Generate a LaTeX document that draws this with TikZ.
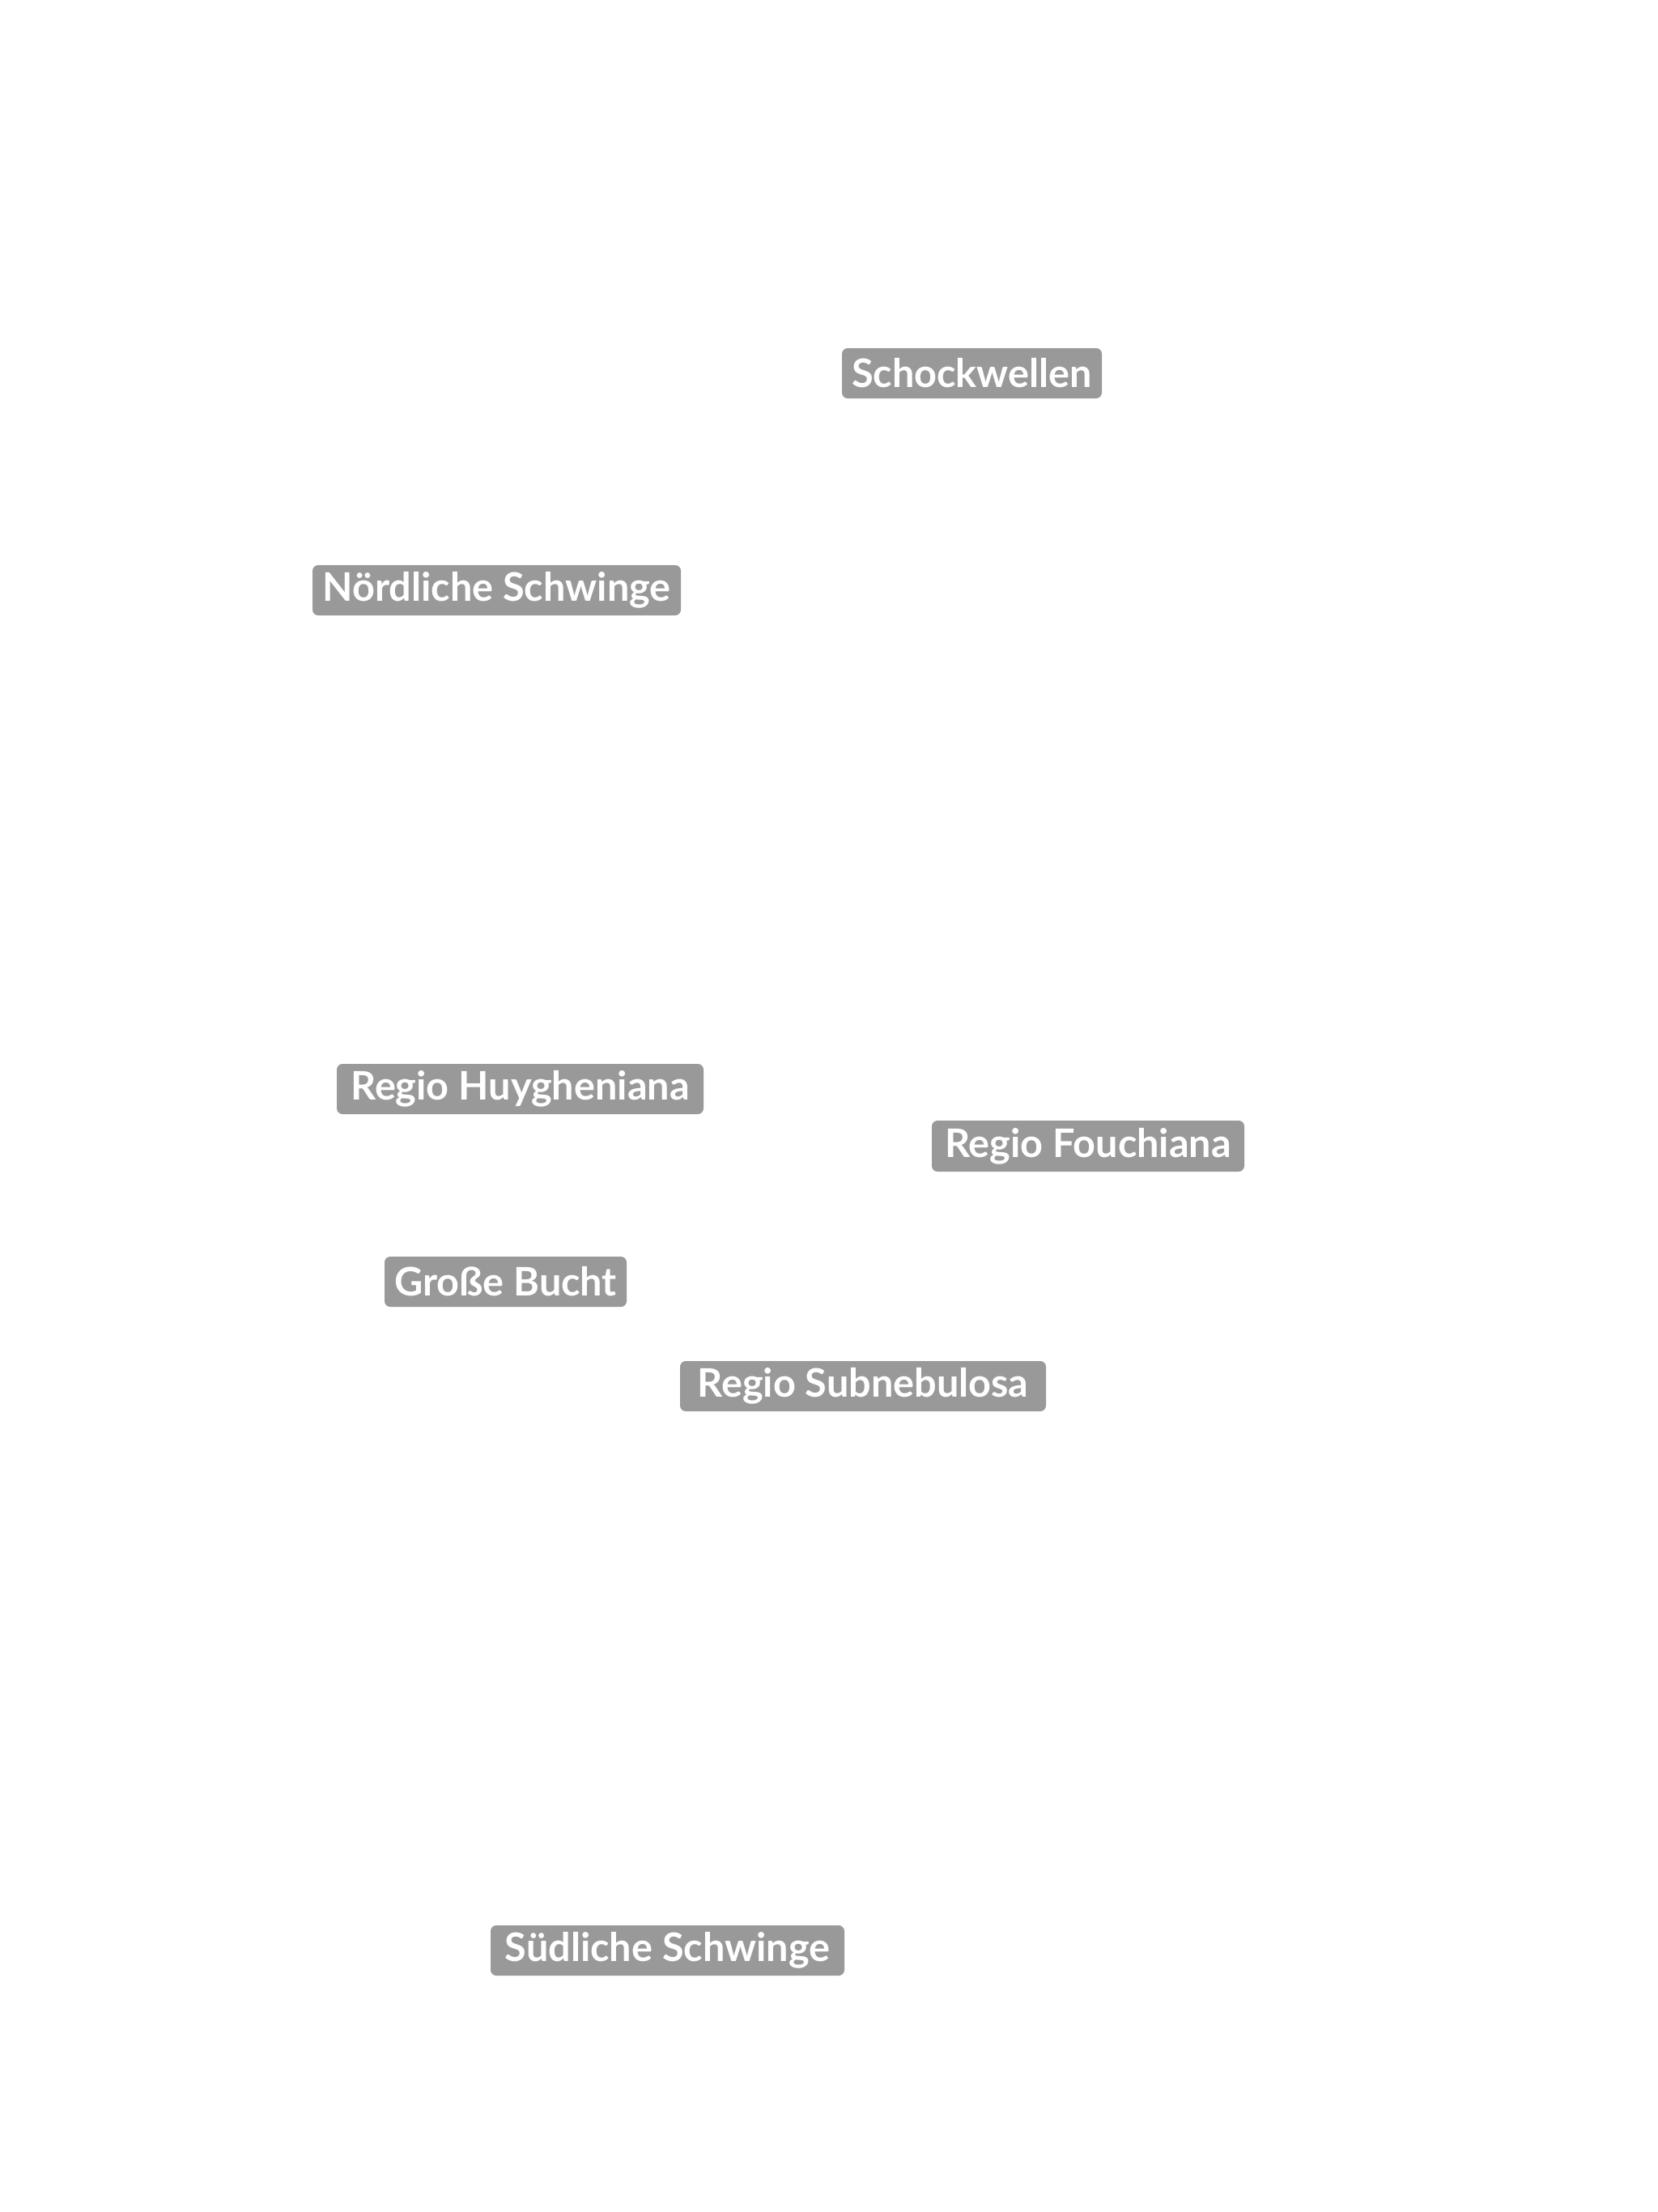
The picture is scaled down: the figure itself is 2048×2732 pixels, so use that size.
\documentclass[tikz,border=0pt]{standalone}
\usepackage{fontspec}
\setmainfont{Lato}
\begin{document}
\begin{tikzpicture}[x=0.5pt,y=-0.5pt,
  lbl/.style={rectangle, rounded corners=3.5pt, fill=labelgray, text=white,
    inner sep=0pt, font=\fontsize{24.3}{28}\selectfont\bfseries}]
\definecolor{labelgray}{HTML}{999999}
\useasboundingbox[fill=white] (0,0) rectangle (2048,2732);
\node[lbl, minimum width=160.5pt, minimum height=31pt] (schock) at (1200.5,461) {Schockwellen};
\node[lbl, minimum width=227.5pt, minimum height=31pt] (nord) at (613.5,729) {Nördliche Schwinge};
\node[lbl, minimum width=226.5pt, minimum height=31pt] (huyg) at (642.5,1345) {Regio Huygheniana};
\node[lbl, minimum width=193pt, minimum height=31.5pt] (fouch) at (1344,1415.5) {Regio Fouchiana};
\node[lbl, minimum width=149.5pt, minimum height=31pt] (bucht) at (624.5,1583) {Große Bucht};
\node[lbl, minimum width=226pt, minimum height=31pt] (subneb) at (1066,1712) {Regio Subnebulosa};
\node[lbl, minimum width=218.5pt, minimum height=31pt] (sued) at (824.5,2409) {Südliche Schwinge};
\end{tikzpicture}
\end{document}
